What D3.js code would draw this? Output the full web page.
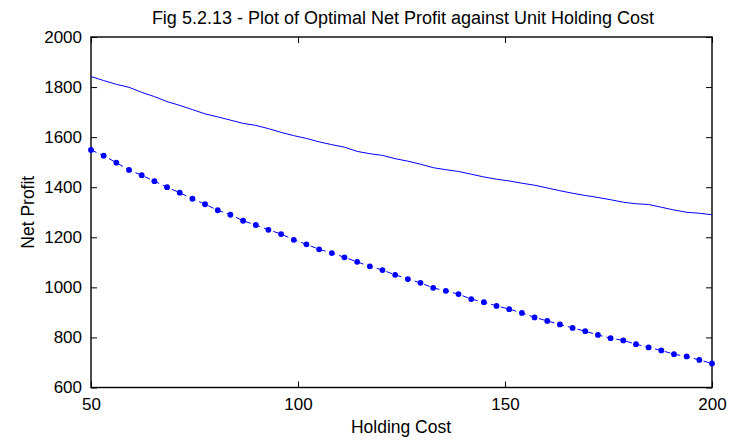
<!DOCTYPE html>
<html>
<head>
<meta charset="utf-8">
<script src="https://cdn.jsdelivr.net/npm/d3@7"></script>
<style>
  html, body { margin: 0; padding: 0; background: #fff; }
  svg { display: block; }
  text { font-family: "Liberation Sans", Arial, sans-serif; fill: #000; }
</style>
</head>
<body>
<svg id="chart" width="733" height="440"></svg>
<script>
// Holding cost grid: 50 points from 50 to 200
const holdingCost = d3.range(50).map(i => 50 + i * 150 / 49);

// Upper curve (solid line)
const profitUpper = [
  1842, 1826, 1811, 1799, 1779, 1762, 1742, 1727, 1710, 1693,
  1681, 1668, 1655, 1647, 1634, 1619, 1606, 1595, 1581, 1570,
  1560, 1543, 1534, 1527, 1514, 1504, 1492, 1478, 1470, 1463,
  1452, 1441, 1432, 1425, 1416, 1408, 1397, 1386, 1376, 1367,
  1359, 1350, 1340, 1334, 1331, 1320, 1309, 1300, 1296, 1290
];

// Lower curve (dashed line with dot markers)
const profitLower = [
  1549, 1526, 1498, 1469, 1448, 1424, 1400, 1378, 1354, 1332,
  1308, 1290, 1266, 1249, 1230, 1213, 1190, 1172, 1152, 1137,
  1120, 1102, 1084, 1069, 1050, 1033, 1018, 998, 986, 973,
  953, 941, 926, 913, 898, 880, 866, 852, 838, 825,
  810, 797, 788, 773, 760, 748, 733, 724, 710, 696
];

const xTicks = [50, 100, 150, 200];
const yTicks = [600, 800, 1000, 1200, 1400, 1600, 1800, 2000];

const titleText = "Fig 5.2.13 - Plot of Optimal Net Profit against Unit Holding Cost";
const xLabel = "Holding Cost";
const yLabel = "Net Profit";

const plotLeft = 91, plotRight = 712, plotTop = 37, plotBottom = 387.5;
const svg = d3.select("#chart");

const x = d3.scaleLinear().domain([50, 200]).range([plotLeft, plotRight]);
const y = d3.scaleLinear().domain([600, 2000]).range([plotBottom, plotTop]);

const tickLen = 6;
const tickFont = 17;
const labelFont = 17.5;
const titleFont = 18;

// Axes: bottom/left with labels, top/right as mirrored ticks only
const gB = svg.append("g").attr("transform", `translate(0,${plotBottom})`)
  .call(d3.axisBottom(x).tickValues(xTicks).tickFormat(d3.format("d"))
    .tickSizeInner(-tickLen).tickSizeOuter(0).tickPadding(10));
const gT = svg.append("g").attr("transform", `translate(0,${plotTop})`)
  .call(d3.axisTop(x).tickValues(xTicks).tickFormat("")
    .tickSizeInner(-tickLen).tickSizeOuter(0));
const gL = svg.append("g").attr("transform", `translate(${plotLeft},0)`)
  .call(d3.axisLeft(y).tickValues(yTicks).tickFormat(d3.format("d"))
    .tickSizeInner(-tickLen).tickSizeOuter(0).tickPadding(9));
const gR = svg.append("g").attr("transform", `translate(${plotRight},0)`)
  .call(d3.axisRight(y).tickValues(yTicks).tickFormat("")
    .tickSizeInner(-tickLen).tickSizeOuter(0));

[gB, gT, gL, gR].forEach(g => {
  g.select(".domain").remove();
  g.selectAll(".tick line").attr("stroke", "#000").attr("stroke-width", 1);
  g.selectAll(".tick text")
    .style("font-family", '"Liberation Sans", Arial, sans-serif')
    .style("font-size", tickFont + "px").attr("fill", "#000");
});

// Plot frame
svg.append("rect")
  .attr("x", plotLeft).attr("y", plotTop)
  .attr("width", plotRight - plotLeft).attr("height", plotBottom - plotTop)
  .attr("fill", "none").attr("stroke", "#000").attr("stroke-width", 1.4);

const line = d3.line().x(d => x(d[0])).y(d => y(d[1]));
const upperPts = holdingCost.map((h, i) => [h, profitUpper[i]]);
const lowerPts = holdingCost.map((h, i) => [h, profitLower[i]]);

svg.append("path").datum(upperPts)
  .attr("d", line).attr("fill", "none")
  .attr("stroke", "#0000ff").attr("stroke-width", 1);

svg.append("path").datum(lowerPts)
  .attr("d", line).attr("fill", "none")
  .attr("stroke", "#0000ff").attr("stroke-width", 1)
  .attr("stroke-dasharray", "6,4");

svg.append("g").selectAll("circle").data(lowerPts).join("circle")
  .attr("cx", d => x(d[0])).attr("cy", d => y(d[1]))
  .attr("r", 2.9).attr("fill", "#0000ff");

// Title and axis labels
svg.append("text").attr("x", 403).attr("y", 24)
  .attr("text-anchor", "middle").style("font-size", titleFont + "px")
  .text(titleText);

svg.append("text").attr("x", 401).attr("y", 433)
  .attr("text-anchor", "middle").style("font-size", labelFont + "px")
  .text(xLabel);

svg.append("text")
  .attr("transform", `translate(34,${(plotTop + plotBottom) / 2}) rotate(-90)`)
  .attr("text-anchor", "middle").style("font-size", labelFont + "px")
  .text(yLabel);
</script>
</body>
</html>
